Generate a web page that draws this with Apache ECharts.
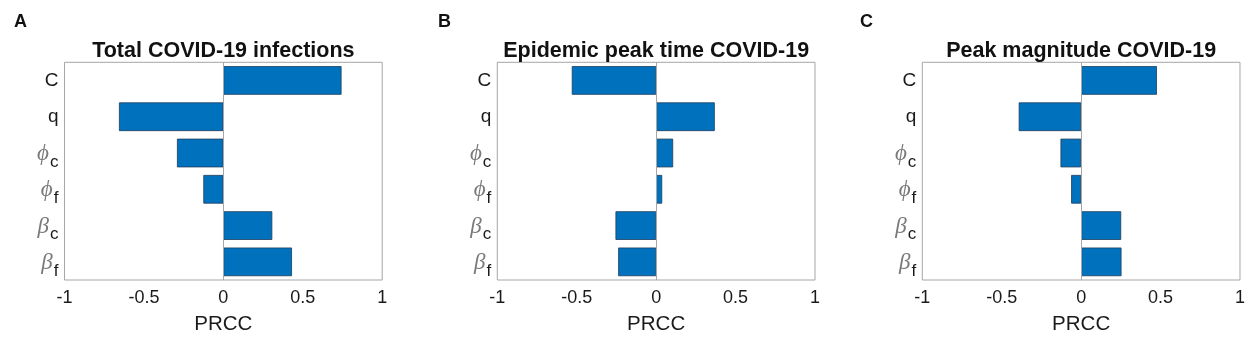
<!DOCTYPE html>
<html>
<head>
<meta charset="utf-8">
<script src="https://cdn.jsdelivr.net/npm/echarts@6/dist/echarts.min.js"></script>
<style>html,body{margin:0;padding:0;background:#fff;}#c{width:1248px;height:342px;}</style>
</head>
<body>
<div id="c"></div>
<script>
// Data
const categories = ['C', 'q', 'phi_c', 'phi_f', 'beta_c', 'beta_f'];
const panelLetters = ['A', 'B', 'C'];
const panelTitles = ['Total COVID-19 infections', 'Epidemic peak time COVID-19', 'Peak magnitude COVID-19'];
const totalInfections = [0.744, -0.657, -0.292, -0.126, 0.308, 0.432];
const peakTime = [-0.531, 0.369, 0.107, 0.038, -0.256, -0.239];
const peakMagnitude = [0.477, -0.393, -0.130, -0.063, 0.252, 0.254];
const xTicks = [-1, -0.5, 0, 0.5, 1];
const xName = 'PRCC';

const seriesData = [totalInfections, peakTime, peakMagnitude];
const gridLefts = [64.5, 497.3, 922.3];
const gridW = 317.7, gridTop = 62.3, gridH = 217.7;
const font = '"Liberation Sans", Arial, sans-serif';

function yLabel(v) {
  if (v === 'C' || v === 'q') return '{n|' + v + '}';
  const parts = v.split('_');
  const g = parts[0] === 'phi' ? '\u03D5' : '\u03B2';
  return '{g|' + g + '}{s|' + parts[1] + '}';
}

const grids = [], xAxes = [], yAxes = [], series = [], titles = [];
for (let i = 0; i < 3; i++) {
  grids.push({left: gridLefts[i], top: gridTop, width: gridW, height: gridH,
    show: true, borderColor: '#a6a6a6', borderWidth: 1, backgroundColor: '#fff'});
  const axisTick = {inside: true, length: 3, lineStyle: {color: '#555', width: 1}};
  xAxes.push({gridIndex: i, type: 'value', min: -1, max: 1, interval: 0.5, position: 'bottom',
    axisLine: {show: false}, axisTick: axisTick, splitLine: {show: false},
    axisLabel: {color: '#1a1a1a', fontSize: 18, fontFamily: font, margin: 9,
      formatter: function (v) { return xTicks.indexOf(v) >= 0 ? String(v) : ''; }},
    name: xName, nameLocation: 'middle', nameGap: 34,
    nameTextStyle: {color: '#1a1a1a', fontSize: 20.5, fontFamily: font}});
  xAxes.push({gridIndex: i, type: 'value', min: -1, max: 1, interval: 0.5, position: 'top',
    axisLine: {show: false}, axisTick: axisTick, splitLine: {show: false}, axisLabel: {show: false}});
  yAxes.push({gridIndex: i, type: 'category', data: categories, inverse: true, position: 'left',
    axisLine: {show: false}, axisTick: Object.assign({alignWithLabel: true}, axisTick),
    axisLabel: {margin: 6, formatter: yLabel, fontFamily: font,
      rich: {
        n: {fontSize: 19, color: '#1a1a1a', fontFamily: font},
        g: {fontSize: 23, color: '#7a7a7a', fontStyle: 'italic', fontFamily: '"Liberation Serif", "DejaVu Serif", serif', padding: [2, 0, 0, 0]},
        s: {fontSize: 17, color: '#1a1a1a', fontFamily: font, padding: [18, 0, 0, 1]}
      }}});
  yAxes.push({gridIndex: i, type: 'category', data: categories, inverse: true, position: 'right',
    axisLine: {show: false}, axisTick: Object.assign({alignWithLabel: true}, axisTick), axisLabel: {show: false}});
  series.push({type: 'bar', xAxisIndex: 2 * i, yAxisIndex: 2 * i, data: seriesData[i],
    barCategoryGap: '21%', silent: true,
    itemStyle: {color: '#0072BD', borderColor: '#1d3b5c', borderWidth: 0.8},
    markLine: {silent: true, symbol: 'none', label: {show: false},
      lineStyle: {color: '#a6a6a6', type: 'solid', width: 1}, data: [{xAxis: 0}]}});
  titles.push({text: panelTitles[i], left: gridLefts[i] + gridW / 2, top: 40, textAlign: 'center', padding: 0,
    textStyle: {fontSize: 21.5, fontWeight: 'bold', color: '#111', fontFamily: font}});
  titles.push({text: panelLetters[i], left: [14, 438, 860][i], top: 13, padding: 0,
    textStyle: {fontSize: 18, fontWeight: 'bold', color: '#111', fontFamily: font}});
}

const chart = echarts.init(document.getElementById('c'), null, {renderer: 'canvas'});
chart.setOption({animation: false, backgroundColor: '#fff', title: titles,
  grid: grids, xAxis: xAxes, yAxis: yAxes, series: series});
</script>
</body>
</html>
